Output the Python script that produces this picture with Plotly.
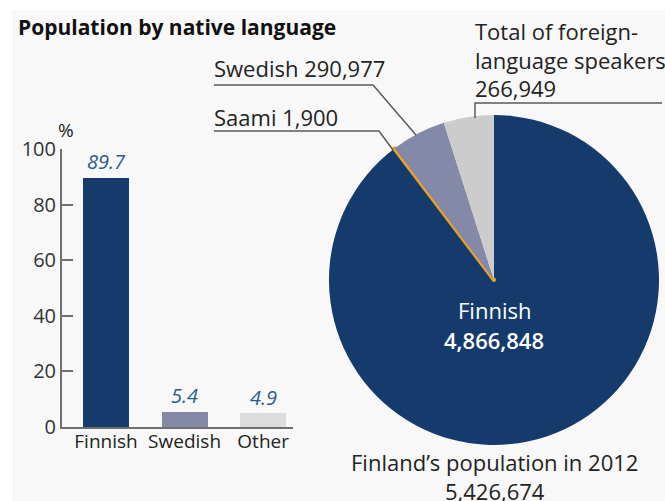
import plotly.graph_objects as go

W, H = 665, 501

# Share of population by native language, 2012 (%)
categories = ["Finnish", "Swedish", "Other"]
shares = [89.7, 5.4, 4.9]
bar_colors = ["#143b6b", "#8589a8", "#dcdcdc"]
y_ticks = [0, 20, 40, 60, 80, 100]

# Population counts by native language, 2012
pie_labels = ["Finnish", "Saami", "Swedish", "Other"]
pie_values = [4866848, 1900, 290977, 266949]
pie_colors = ["#143b6b", "#f0a023", "#8589a8", "#cccccc"]
total_population = sum(pie_values)

FONT = "Open Sans"
TEXT = "#222222"
AXIS = "#6f6f6f"
LEADER = "#5a5a5a"


def px(x):
    return x / W


def py(y):
    return 1 - y / H


def fmt(n):
    return f"{n:,}"


fig = go.Figure()

fig.add_trace(go.Bar(
    x=categories, y=shares, width=0.586,
    marker=dict(color=bar_colors, line=dict(width=0)),
    hoverinfo="skip", showlegend=False,
    xaxis="x", yaxis="y",
))

fig.add_trace(go.Pie(
    labels=pie_labels, values=pie_values, sort=False,
    direction="clockwise", rotation=0, automargin=False,
    marker=dict(colors=pie_colors,
                line=dict(color=pie_colors, width=[0, 4, 0, 0])),
    textinfo="none", hoverinfo="skip", showlegend=False,
    domain=dict(x=[px(329), px(659)], y=[py(445), py(115)]),
))

annotations = []

# Bar value labels
for c, v in zip(categories, shares):
    annotations.append(dict(
        x=c, y=v, xref="x", yref="y", text=f"<i>{v}</i>", showarrow=False,
        yanchor="middle", yshift=16,
        font=dict(family=FONT, size=20, color="#2b5a8c"),
    ))

annotations.append(dict(
    x=px(66), y=py(130), xref="paper", yref="paper", text="%",
    showarrow=False, xanchor="center", yanchor="middle",
    font=dict(family=FONT, size=19, color=TEXT),
))

annotations.append(dict(
    x=px(16), y=py(27), xref="paper", yref="paper",
    text="<b>Population by native language</b>", showarrow=False,
    xanchor="left", yanchor="middle",
    font=dict(family=FONT, size=21, color="#111111"),
))


def label(text, x, y, anchor="left", size=22, color=TEXT, weight=None):
    f = dict(family=FONT, size=size, color=color)
    if weight:
        f["weight"] = weight
    annotations.append(dict(
        x=px(x), y=py(y), xref="paper", yref="paper", text=text,
        showarrow=False, xanchor=anchor, yanchor="middle", align=anchor,
        font=f,
    ))


label(f"Swedish {fmt(pie_values[2])}", 212, 68)
label(f"Saami {fmt(pie_values[1])}", 212, 117)
label(f"Total of foreign-<br>language speakers<br>{fmt(pie_values[3])}",
      473, 59)
label(pie_labels[0], 494, 310, anchor="center", color="white")
label(fmt(pie_values[0]), 494, 340, anchor="center", color="white",
      weight=600)
label(f"Finland’s population in 2012<br>{fmt(total_population)}",
      494, 476, anchor="center")

shapes = [
    # panel background
    dict(type="rect", xref="paper", yref="paper", x0=px(12), x1=1,
         y0=0, y1=py(10), fillcolor="#f8f8f8", line=dict(width=0),
         layer="below"),
]


def leader(points):
    path = "M " + " L ".join(f"{px(x)},{py(y)}" for x, y in points)
    shapes.append(dict(type="path", xref="paper", yref="paper", path=path,
                       line=dict(color=LEADER, width=1.5), layer="above"))


leader([(214, 85), (373, 85), (416, 135)])
leader([(214, 131), (379, 131), (393, 150)])
leader([(662, 103), (475, 103), (475, 118)])

fig.update_layout(
    width=W, height=H, autosize=False,
    margin=dict(l=0, r=0, t=0, b=0, pad=0, autoexpand=False),
    paper_bgcolor="white", plot_bgcolor="rgba(0,0,0,0)",
    font=dict(family=FONT, color=TEXT),
    bargap=0, showlegend=False,
    xaxis=dict(
        domain=[px(62), px(293)], range=[-0.56, 2.38],
        showline=True, linecolor=AXIS, linewidth=2,
        ticks="", showgrid=False, zeroline=False, automargin=False,
        ticklabelstandoff=-4,
        tickfont=dict(family=FONT, size=19, color=TEXT),
        fixedrange=True,
    ),
    yaxis=dict(
        domain=[py(427), py(149)], range=[0, 100],
        showline=True, linecolor=AXIS, linewidth=2,
        ticks="inside", ticklen=11, tickwidth=2, tickcolor=AXIS,
        tickvals=y_ticks, showgrid=False, zeroline=False, automargin=False,
        tickfont=dict(family=FONT, size=20, color="#333333"),
        fixedrange=True,
    ),
    annotations=annotations,
    shapes=shapes,
)

fig.write_html("out.html")
